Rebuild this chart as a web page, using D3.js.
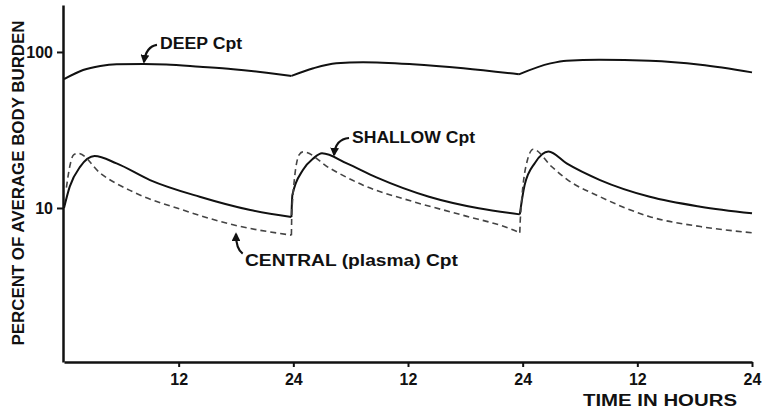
<!DOCTYPE html>
<html>
<head>
<meta charset="utf-8">
<script src="https://cdn.jsdelivr.net/npm/d3@7"></script>
<style>
  html, body { margin: 0; padding: 0; background: #fff; }
  svg { display: block; }
  text { font-family: "Liberation Sans", Arial, Helvetica, sans-serif; font-weight: bold; fill: #111; }
</style>
</head>
<body>
<svg id="chart" width="765" height="411"></svg>
<script>
// ---- data (time in hours across three 24-h dosing intervals, percent of average body burden) ----
const deepSeries = [[0,67],[2,76.7],[3.8,81.4],[5.5,83.4],[8.3,83.7],[10.7,83.2],[14.2,80.5],[17.7,77.6],[21.2,73.6],[23.8,70.2],
  [26.1,78.6],[28.5,84.7],[31.3,86],[36.5,83.4],[41.8,78.6],[47.6,71.9],
  [50.9,84.5],[52.6,88],[56,89],[61.3,87.7],[66.6,82.7],[72,74]];
const deepBreaks = [23.8, 47.6];

const shallowSeries = [[0,10],[0.6,13.7],[1.7,18.4],[3.2,21.5],[5.5,19.3],[9,15.1],[14.2,11.8],[19.5,9.7],[23.8,8.75],
  [23.9,12.1],[25,17.5],[26.1,20.8],[27,22.4],[29.6,19.3],[32.7,15.7],[38.2,11.8],[43.4,9.95],[47.7,9.1],
  [48.2,14.0],[49.3,19.5],[50.7,23.0],[52.6,19.3],[56.1,15.1],[61.3,11.8],[66.6,10.2],[72,9.24]];
const shallowBreaks = [23.8, 47.7];

const centralSeries = [[0.25,13.5],[0.6,18.4],[1.0,21.9],[1.5,22.4],[3.8,16.7],[7.2,12.7],[12.45,9.7],[17.7,7.8],[23.8,6.7],
  [23.85,9.7],[24.6,21.9],[25.0,22.9],[27.8,18.0],[31.3,14.0],[36.5,11.0],[41.7,9.0],[47.1,7.2],[47.7,6.94],
  [47.75,8.4],[48.5,20.3],[49.1,23.8],[51.0,18.5],[52.6,15.3],[56.1,11.8],[61.3,8.8],[66.6,7.6],[72,6.94]];
const centralBreaks = [23.8, 47.7];

const xTicks = [12, 24, 36, 48, 60, 72];
const xTickLabels = ["12", "24", "12", "24", "12", "24"];
const yTicks = [10, 100];
const yTickLabels = ["10", "100"];

// annotations: text anchor (t, v) and arrow tail/control/tip in data units
const annotations = [
  { label: "DEEP Cpt", t: 10.05, v: 104.6, len: 82, arrow: [[9.73,110.9],[8.6,108.5],[8.37,86.3]] },
  { label: "SHALLOW Cpt", t: 30.14, v: 26.1, len: 123, arrow: [[29.83,28.1],[28.4,27.6],[28.26,21.9]] },
  { label: "CENTRAL (plasma) Cpt", t: 18.94, v: 4.25, len: 213, arrow: [[18.7,5.1],[18.0,5.45],[18.0,6.81]] }
];

// ---- layout ----
const svg = d3.select("#chart");
const x = d3.scaleLinear().domain([0, 72]).range([64, 752]);
const y = d3.scaleLog().domain([1.03, 200]).range([362, 5]);

// series splitter: cut at break times (sharp kinks at each dose)
function segments(series, breaks) {
  const segs = [];
  let cur = [];
  series.forEach(p => {
    cur.push(p);
    if (breaks.includes(p[0])) { segs.push(cur); cur = [p]; }
  });
  if (cur.length > 1) segs.push(cur);
  return segs;
}
const line = d3.line().x(d => x(d[0])).y(d => y(d[1])).curve(d3.curveMonotoneX);

function drawSeries(series, breaks, attrs) {
  const g = svg.append("g");
  segments(series, breaks).forEach(seg => {
    const p = g.append("path").attr("d", line(seg)).attr("fill", "none");
    Object.entries(attrs).forEach(([k, v]) => p.attr(k, v));
  });
}

drawSeries(deepSeries, deepBreaks, { stroke: "#111", "stroke-width": 2, "stroke-linejoin": "round" });
drawSeries(shallowSeries, shallowBreaks, { stroke: "#111", "stroke-width": 2, "stroke-linejoin": "round" });
drawSeries(centralSeries, centralBreaks, { stroke: "#444", "stroke-width": 1.6, "stroke-dasharray": "6,4" });

// ---- axes ----
const yAxis = d3.axisLeft(y).tickValues(yTicks).tickSize(6).tickSizeOuter(0).tickPadding(4)
  .tickFormat((d, i) => yTickLabels[i]);
const gy = svg.append("g").attr("transform", `translate(${x(0) - 1},0)`).call(yAxis);
gy.select(".domain").attr("stroke", "#111").attr("stroke-width", 2.5);
gy.selectAll(".tick line").attr("stroke", "#111").attr("stroke-width", 2);
gy.selectAll(".tick text").style("font-size", "16px").attr("dy", "0.36em");

const xAxis = d3.axisBottom(x).tickValues(xTicks).tickSize(5).tickSizeOuter(0).tickPadding(7)
  .tickFormat((d, i) => xTickLabels[i]);
const gx = svg.append("g").attr("transform", `translate(0,${y(1.03)})`).call(xAxis);
gx.select(".domain").attr("stroke", "#111").attr("stroke-width", 2.5);
gx.selectAll(".tick line").attr("stroke", "#111").attr("stroke-width", 2);
gx.selectAll(".tick text").style("font-size", "16px");

svg.selectAll(".domain").attr("fill", "none");

// axis titles
svg.append("text")
  .attr("transform", "translate(24,183) rotate(-90)")
  .attr("text-anchor", "middle")
  .attr("textLength", 325).attr("lengthAdjust", "spacingAndGlyphs")
  .style("font-size", "16px")
  .text("PERCENT OF AVERAGE BODY BURDEN");

svg.append("text")
  .attr("x", 660).attr("y", 406)
  .attr("text-anchor", "middle")
  .attr("textLength", 154).attr("lengthAdjust", "spacingAndGlyphs")
  .style("font-size", "16px")
  .text("TIME IN HOURS");

// ---- annotations ----
svg.append("defs").append("marker")
  .attr("id", "ah").attr("viewBox", "0 0 10 10").attr("refX", 8).attr("refY", 5)
  .attr("markerWidth", 4).attr("markerHeight", 4).attr("orient", "auto")
  .append("path").attr("d", "M0,0 L10,5 L0,10 Z").attr("fill", "#111");

annotations.forEach(a => {
  svg.append("text")
    .attr("x", x(a.t)).attr("y", y(a.v))
    .attr("textLength", a.len).attr("lengthAdjust", "spacingAndGlyphs")
    .style("font-size", "16px")
    .text(a.label);
  const [p0, c, p1] = a.arrow;
  svg.append("path")
    .attr("d", `M${x(p0[0])},${y(p0[1])} Q${x(c[0])},${y(c[1])} ${x(p1[0])},${y(p1[1])}`)
    .attr("fill", "none").attr("stroke", "#111").attr("stroke-width", 2.2)
    .attr("marker-end", "url(#ah)");
});
</script>
</body>
</html>
